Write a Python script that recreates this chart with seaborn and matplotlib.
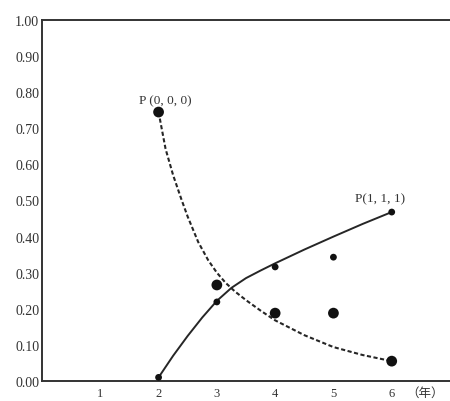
import numpy as np
import pandas as pd
import matplotlib
matplotlib.use('Agg')
import matplotlib.pyplot as plt
import seaborn as sns

# observed points (year, proportion)
years = [2, 3, 4, 5, 6]
p000_obs = [0.745, 0.266, 0.188, 0.188, 0.055]
p111_obs = [0.010, 0.219, 0.316, 0.343, 0.468]

# fitted curves
p000_x = [2.0, 2.12, 2.25, 2.39, 2.5, 2.68, 2.85, 3.0, 3.15, 3.31, 3.5, 3.75, 4.0, 4.5, 5.0, 5.5, 6.0]
p000_y = [0.745, 0.643, 0.570, 0.504, 0.455, 0.385, 0.335, 0.300, 0.272, 0.248, 0.224, 0.195, 0.168, 0.127, 0.094, 0.072, 0.055]
p111_x = [2.0, 2.25, 2.5, 2.75, 3.0, 3.25, 3.5, 3.75, 4.0, 4.5, 5.0, 5.5, 6.0]
p111_y = [0.010, 0.070, 0.125, 0.176, 0.222, 0.258, 0.285, 0.306, 0.326, 0.364, 0.400, 0.435, 0.468]

yticks = [0.0, 0.1, 0.2, 0.3, 0.4, 0.5, 0.6, 0.7, 0.8, 0.9, 1.0]
xticks = [1, 2, 3, 4, 5, 6]

sns.set_style('white')
plt.rcParams['font.family'] = ['Liberation Serif', 'Noto Sans CJK JP']

fig = plt.figure(figsize=(4.5, 4.02), dpi=100)
ax = fig.add_axes([42 / 450, 20 / 402, 408 / 450, 361 / 402])

ink = '#262626'
sns.lineplot(x=p000_x, y=p000_y, ax=ax, color=ink, lw=1.5, linestyle=(0, (2, 1.2)))
sns.lineplot(x=p111_x, y=p111_y, ax=ax, color=ink, lw=1.4)
sns.scatterplot(x=years, y=p000_obs, ax=ax, color='#111111', s=60, edgecolor='none', zorder=5)
sns.scatterplot(x=years, y=p111_obs, ax=ax, color='#111111', s=24, edgecolor='none', zorder=5)

ax.text(2.11, 0.778, 'P (0, 0, 0)', ha='center', va='center', fontsize=9.5, color='#333333')
ax.text(5.8, 0.505, 'P(1, 1, 1)', ha='center', va='center', fontsize=9.5, color='#333333')

ax.set_xlim(0, 7)
ax.set_ylim(0, 1)
ax.set_xticks(xticks)
ax.set_xticklabels([str(v) for v in xticks])
ax.set_yticks(yticks)
ax.set_yticklabels([f'{v:.2f}' for v in yticks])
ax.tick_params(direction='in', length=4, width=1, colors='#333333', labelsize=10, pad=2)
ax.tick_params(axis='x', pad=4, labelsize=9)

for side in ['left', 'bottom', 'top']:
    ax.spines[side].set_visible(True)
    ax.spines[side].set_color('#333333')
    ax.spines[side].set_linewidth(1.4)
ax.spines['right'].set_visible(False)

ax.text(6.57, -0.012, '（年）', ha='center', va='top', fontsize=9, color='#333333',
        family=['Noto Sans CJK JP'])

fig.savefig('out.png', dpi=100)
